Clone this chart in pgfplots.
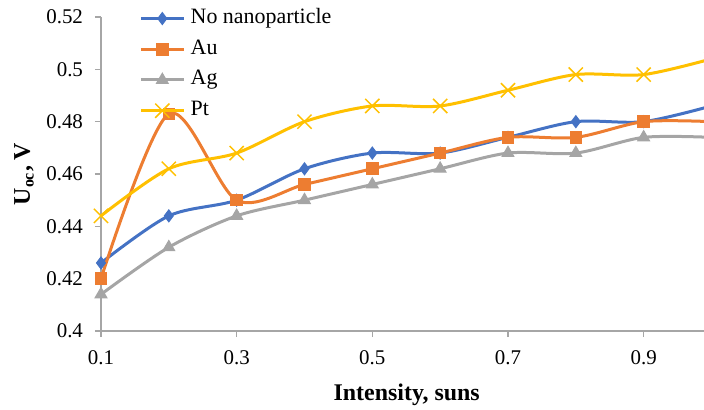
\documentclass[border=0pt]{standalone}
\usepackage{fontspec}
\setmainfont{Liberation Serif}
\usepackage{pgfplots}
\pgfplotsset{compat=1.18}
\definecolor{cblue}{HTML}{4472C4}
\definecolor{corange}{HTML}{ED7D31}
\definecolor{cgray}{HTML}{A5A5A5}
\definecolor{cyellow}{HTML}{FFC000}
\definecolor{axgray}{HTML}{A6A6A6}
\begin{document}
\begin{tikzpicture}
\begin{axis}[
  scale only axis,
  width=301.5bp, height=157bp,
  xmin=0.1, xmax=0.989,
  ymin=0.4, ymax=0.52,
  clip=false,
  axis x line*=bottom,
  axis y line*=left,
  axis line style={draw=axgray, line width=0.75bp},
  tick align=outside,
  major tick length=3bp,
  tick style={draw=axgray, line width=0.75bp},
  xtick={0.1,0.3,0.5,0.7,0.9},
  xticklabels={0.1,0.3,0.5,0.7,0.9},
  ytick={0.4,0.42,0.44,0.46,0.48,0.5,0.52},
  yticklabels={0.4,0.42,0.44,0.46,0.48,0.5,0.52},
  /pgf/number format/assume math mode=true,
  tick label style={font=\fontsize{10.5}{12}\selectfont},
  xticklabel style={yshift=-3.5bp},
  yticklabel style={xshift=-2.5bp},
  xlabel={\textbf{Intensity, suns}},
  ylabel={\textbf{U\textsubscript{oc}, V}},
  label style={font=\fontsize{12}{14}\selectfont},
  xlabel style={at={(axis description cs:0.507,-0.22)}, anchor=base},
  ylabel style={at={(axis description cs:-0.1277,0.5)}, anchor=center},
  legend cell align=left,
  legend style={draw=none, fill=none, at={(axis description cs:0.053,1.058)}, anchor=north west,
    font=\fontsize{11}{13}\selectfont, row sep=0pt,
    nodes={inner sep=2.7bp, text height=0.75em, text depth=0.25em}},
  legend image code/.code={
    \draw[mark repeat=2,mark phase=2,#1] plot coordinates {(0bp,0bp) (10.75bp,0bp) (21.5bp,0bp)};
  },
  every axis plot/.append style={smooth, line width=1.5bp},
]
\addplot[cblue, mark=diamond*, mark options={solid, fill=cblue, line width=0.5bp, mark size=3bp}]
  coordinates {(0.1,0.426) (0.2,0.444) (0.3,0.450) (0.4,0.462) (0.5,0.468) (0.6,0.468) (0.7,0.474) (0.8,0.480) (0.9,0.480) (1.0,0.486)};
\addlegendentry{No nanoparticle}
\addplot[corange, mark=square*, mark options={solid, fill=corange, line width=0.5bp, mark size=2.9bp}]
  coordinates {(0.1,0.420) (0.2,0.483) (0.3,0.450) (0.4,0.456) (0.5,0.462) (0.6,0.468) (0.7,0.474) (0.8,0.474) (0.9,0.480) (1.0,0.480)};
\addlegendentry{Au}
\addplot[cgray, mark=triangle*, mark options={solid, fill=cgray, line width=0.5bp, mark size=3.4bp}]
  coordinates {(0.1,0.414) (0.2,0.432) (0.3,0.444) (0.4,0.450) (0.5,0.456) (0.6,0.462) (0.7,0.468) (0.8,0.468) (0.9,0.474) (1.0,0.474)};
\addlegendentry{Ag}
\addplot[cyellow, mark=x, mark options={solid, line width=0.75bp, mark size=5bp}]
  coordinates {(0.1,0.444) (0.2,0.462) (0.3,0.468) (0.4,0.480) (0.5,0.486) (0.6,0.486) (0.7,0.492) (0.8,0.498) (0.9,0.498) (1.0,0.504)};
\addlegendentry{Pt}
\end{axis}
\pgfresetboundingbox
\path[use as bounding box] (-50.5bp,-39.5bp) rectangle (301.5bp,165.5bp);
\end{tikzpicture}
\end{document}
